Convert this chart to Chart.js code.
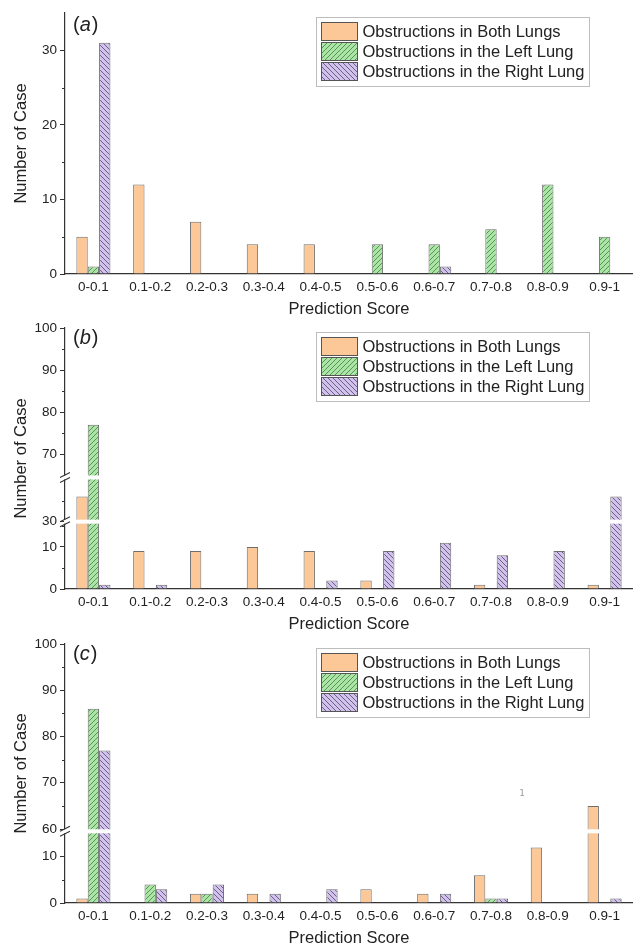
<!DOCTYPE html>
<html>
<head>
<meta charset="utf-8">
<script src="https://cdn.jsdelivr.net/npm/chart.js@4"></script>
<style>
  html, body { margin:0; padding:0; background:#fff; }
  #wrap { position:relative; width:633px; height:947px; }
  #wrap canvas { position:absolute; left:0; top:0; }
</style>
</head>
<body>
<div id="wrap">
  <canvas id="chartA" width="633" height="947"></canvas>
  <canvas id="chartB" width="633" height="947"></canvas>
  <canvas id="chartC" width="633" height="947"></canvas>
</div>
<script>
const categories = ['0-0.1','0.1-0.2','0.2-0.3','0.3-0.4','0.4-0.5','0.5-0.6','0.6-0.7','0.7-0.8','0.8-0.9','0.9-1'];
const seriesLabels = ['Obstructions in Both Lungs','Obstructions in the Left Lung','Obstructions in the Right Lung'];

// panel (a)
const bothA  = [5, 12, 7, 4, 4, 0, 0, 0, 0, 0];
const leftA  = [1, 0, 0, 0, 0, 4, 4, 6, 12, 5];
const rightA = [31, 0, 0, 0, 0, 0, 1, 0, 0, 0];
const segA   = [[0, 35]];
const ticksA = [0, 10, 20, 30];
const minorA = [5, 15, 25];

// panel (b)
const bothB  = [36, 9, 9, 10, 9, 2, 0, 1, 0, 1];
const leftB  = [77, 0, 0, 0, 0, 0, 0, 0, 0, 0];
const rightB = [1, 1, 0, 0, 2, 9, 11, 8, 9, 36];
const segB   = [[0, 16], [30, 40.5], [64.5, 100]];
const ticksB = [0, 10, 30, 70, 80, 90, 100];
const minorB = [5, 15, 35, 75, 85, 95];

// panel (c)
const bothC  = [1, 0, 2, 2, 0, 3, 2, 6, 12, 65];
const leftC  = [86, 4, 2, 0, 0, 0, 0, 1, 0, 0];
const rightC = [77, 3, 4, 2, 3, 0, 2, 1, 0, 1];
const segC   = [[0, 15.5], [59.5, 100]];
const ticksC = [0, 10, 60, 70, 80, 90, 100];
const minorC = [5, 65, 75, 85, 95];

const FONT = "'Liberation Sans', Arial, sans-serif";
Chart.defaults.font.family = FONT;
Chart.defaults.color = '#222';

// linear scale with axis breaks: only the listed segments take up room
class BrokenScale extends Chart.LinearScale {
  determineDataLimits() {
    const s = this.options.segments;
    this.min = s[0][0];
    this.max = s[s.length-1][1];
  }
  buildTicks() {
    return this.options.majorTicks.map(v => ({value: v}));
  }
  _total() {
    return this.options.segments.reduce((t, s) => t + s[1] - s[0], 0);
  }
  getPixelForValue(value) {
    let acc = 0;
    for (const [a, b] of this.options.segments) {
      if (value <= b) { acc += Math.max(0, value - a); return this.getPixelForDecimal(acc / this._total()); }
      acc += b - a;
    }
    return this.getPixelForDecimal(acc / this._total());
  }
  getValueForPixel(pixel) {
    let acc = this.getDecimalForPixel(pixel) * this._total();
    const segs = this.options.segments;
    for (const [a, b] of segs) {
      if (acc <= b - a) return a + acc;
      acc -= b - a;
    }
    return segs[segs.length-1][1] + acc;
  }
}
BrokenScale.id = 'broken';
BrokenScale.defaults = {};
Chart.register(BrokenScale);

function hatch(fill, line, dir) {
  const s = 5;
  const c = document.createElement('canvas');
  c.width = s; c.height = s;
  const g = c.getContext('2d');
  g.fillStyle = fill;
  g.fillRect(0, 0, s, s);
  g.strokeStyle = line;
  g.lineWidth = 1;
  g.beginPath();
  if (dir > 0) {
    g.moveTo(0, s); g.lineTo(s, 0);
    g.moveTo(-1, 1); g.lineTo(1, -1);
    g.moveTo(s-1, s+1); g.lineTo(s+1, s-1);
  } else {
    g.moveTo(0, 0); g.lineTo(s, s);
    g.moveTo(-1, s-1); g.lineTo(1, s+1);
    g.moveTo(s-1, -1); g.lineTo(s+1, 1);
  }
  g.stroke();
  return g.createPattern(c, 'repeat');
}
const orangeFill = '#fdc898';
const greenFill = hatch('#ade3a6', '#4f9a52', 1);
const purpleFill = hatch('#d0c2e8', '#6d5c92', -1);
const fills = [orangeFill, greenFill, purpleFill];
const edge = '#6e6e6e';

const panelPlugin = {
  id: 'panelExtras',
  afterDatasetsDraw(chart) {
    const ctx = chart.ctx, y = chart.scales.y, area = chart.chartArea;
    const segs = y.options.segments;
    ctx.save();
    for (let i = 0; i < segs.length - 1; i++) {
      const py = y.getPixelForValue(segs[i][1]);
      ctx.fillStyle = '#fff';
      ctx.fillRect(area.left - 1, py - 2, area.right - area.left + 1, 4);
      ctx.strokeStyle = '#333';
      ctx.lineWidth = 1.1;
      ctx.beginPath();
      for (const d of [-2.5, 2.5]) {
        ctx.moveTo(area.left - 5, py + d + 2.5);
        ctx.lineTo(area.left + 5, py + d - 2.5);
      }
      ctx.stroke();
    }
    ctx.restore();
  },
  afterDraw(chart, args, opts) {
    const ctx = chart.ctx, y = chart.scales.y, area = chart.chartArea;
    ctx.save();
    // minor ticks
    ctx.strokeStyle = '#333';
    ctx.lineWidth = 1;
    ctx.beginPath();
    for (const v of opts.minor) {
      const py = Math.round(y.getPixelForValue(v)) + 0.5;
      ctx.moveTo(area.left - 3, py);
      ctx.lineTo(area.left, py);
    }
    ctx.stroke();

    // panel tag like (a)
    const ty = area.top + opts.tagOffset;
    ctx.fillStyle = '#222';
    ctx.textBaseline = 'middle';
    ctx.font = '20px ' + FONT;
    let tx = 73;
    ctx.fillText('(', tx, ty); tx += ctx.measureText('(').width;
    ctx.font = 'italic 20px ' + FONT;
    ctx.fillText(opts.tag, tx, ty); tx += ctx.measureText(opts.tag).width + 1;
    ctx.font = '20px ' + FONT;
    ctx.fillText(')', tx, ty);

    // legend box
    const lx = area.left + 251, ly = area.top + 4;
    ctx.fillStyle = '#fff';
    ctx.fillRect(lx, ly, 273, 69);
    ctx.strokeStyle = '#bdbdbd';
    ctx.lineWidth = 1;
    ctx.strokeRect(lx + 0.5, ly + 0.5, 273, 69);
    chart.data.datasets.forEach((ds, i) => {
      const ry = ly + 5 + i * 20;
      ctx.fillStyle = ds.backgroundColor;
      ctx.fillRect(lx + 5, ry, 37, 19);
      ctx.strokeStyle = '#555';
      ctx.strokeRect(lx + 5.5, ry + 0.5, 36, 18);
      ctx.fillStyle = '#222';
      ctx.font = '16.5px ' + FONT;
      ctx.textBaseline = 'middle';
      ctx.fillText(ds.label, lx + 46.5, ry + 10);
    });

    if (opts.note) {
      ctx.fillStyle = '#9a9a9a';
      ctx.font = "9px 'DejaVu Sans Mono', monospace";
      ctx.textAlign = 'center';
      ctx.fillText(opts.note.text, opts.note.x, opts.note.y);
    }
    ctx.restore();
  }
};

function makePanel(id, top, bottom, series, segs, majors, minors, tag, tagOffset, note) {
  new Chart(document.getElementById(id), {
    type: 'bar',
    data: {
      labels: categories,
      datasets: series.map((d, i) => ({
        label: seriesLabels[i],
        data: d,
        backgroundColor: fills[i],
        borderColor: edge,
        borderWidth: 1
      }))
    },
    options: {
      responsive: false,
      animation: false,
      devicePixelRatio: 1,
      categoryPercentage: 0.6,
      barPercentage: 1.0,
      layout: { padding: { top: top, bottom: 947 - bottom - 45, left: 0, right: 0 } },
      plugins: {
        legend: { display: false },
        tooltip: { enabled: false },
        panelExtras: { minor: minors, tag: tag, tagOffset: tagOffset, note: note }
      },
      scales: {
        x: {
          grid: { display: false, drawTicks: false },
          border: { display: true, color: '#333', width: 1.2 },
          ticks: { padding: 5, font: { size: 13.5 }, color: '#222', maxRotation: 0, autoSkip: false },
          title: { display: true, text: 'Prediction Score', font: { size: 16.5 }, color: '#222', padding: { top: 0, bottom: 0 } },
          afterFit: s => { s.height = 45; }
        },
        y: {
          type: 'broken',
          segments: segs,
          majorTicks: majors,
          grid: { drawOnChartArea: false, drawTicks: true, tickLength: 5, color: '#333', tickWidth: 1 },
          border: { display: true, color: '#333', width: 1.2 },
          ticks: { padding: 3, font: { size: 13.5 }, color: '#222' },
          title: { display: true, text: 'Number of Case', font: { size: 16.5 }, color: '#222', padding: { top: 12, bottom: 0 } },
          afterFit: s => { s.width = 65; }
        }
      }
    },
    plugins: [panelPlugin]
  });
}

makePanel('chartA', 13, 274, [bothA, leftA, rightA], segA, ticksA, minorA, 'a', 12, null);
makePanel('chartB', 328, 589, [bothB, leftB, rightB], segB, ticksB, minorB, 'b', 10, null);
makePanel('chartC', 644, 903, [bothC, leftC, rightC], segC, ticksC, minorC, 'c', 10, { text: '1', x: 522, y: 794 });
</script>
</body>
</html>
